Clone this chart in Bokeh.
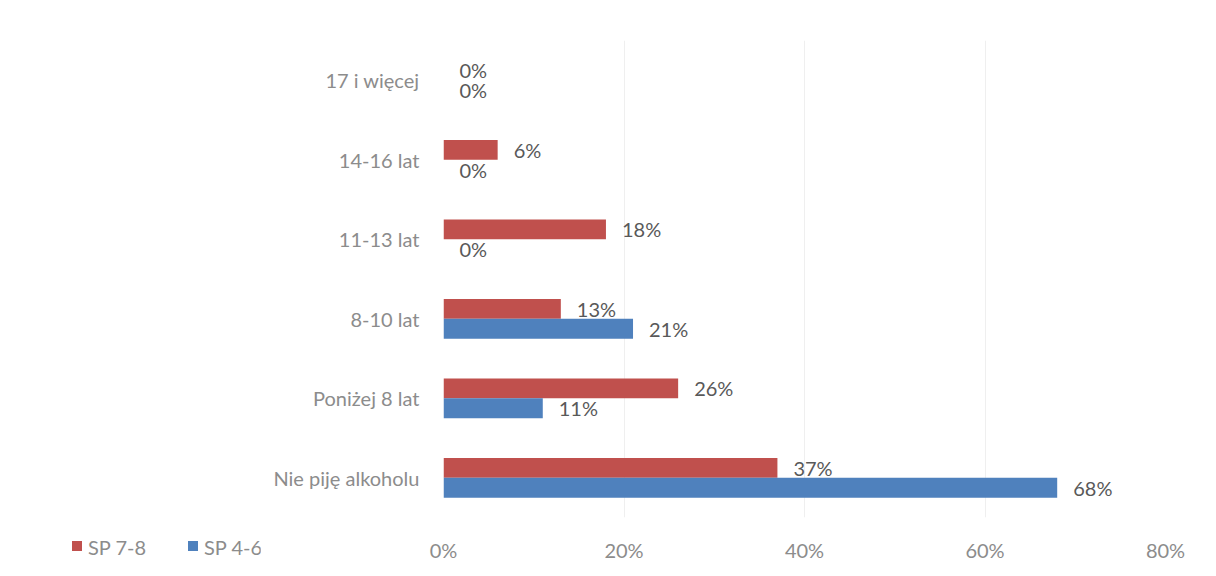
from bokeh.plotting import figure
from bokeh.layouts import row
from bokeh.models import ColumnDataSource, FactorRange, Range1d, FixedTicker, PrintfTickFormatter, Div
from bokeh.transform import dodge
from bokeh.core.properties import value
from bokeh.embed import file_html
from bokeh.resources import INLINE

categories = ["Nie piję alkoholu", "Poniżej 8 lat", "8-10 lat", "11-13 lat", "14-16 lat", "17 i więcej"]
sp78 = [37, 26, 13, 18, 6, 0]
sp46 = [68, 11, 21, 0, 0, 0]
series_names = ["SP 7-8", "SP 4-6"]
x_ticks = [0, 20, 40, 60, 80]

FONT = "Lato"
FS = "20px"
RED = "#C0504D"
BLUE = "#4F81BD"
LABEL_GRAY = "#8c8c8c"
H = 564

src = ColumnDataSource(dict(
    cat=categories,
    sp78=sp78,
    sp46=sp46,
    sp78_lbl=[f"{v}%" for v in sp78],
    sp46_lbl=[f"{v}%" for v in sp46],
))

LEFT_W = 260
p = figure(width=1200 - LEFT_W, height=H, output_backend="svg", toolbar_location=None,
           y_range=FactorRange(*categories, range_padding=0),
           x_range=Range1d(0, 80),
           min_border_left=183, min_border_right=35, min_border_top=40, min_border_bottom=44)
p.outline_line_color = None

r1 = p.hbar(y=dodge("cat", 0.125, range=p.y_range), right="sp78", left=0, height=0.25,
            source=src, fill_color=RED, line_color=None)
r2 = p.hbar(y=dodge("cat", -0.125, range=p.y_range), right="sp46", left=0, height=0.25,
            source=src, fill_color=BLUE, line_color=None)

for col, off in (("sp78", 0.125), ("sp46", -0.125)):
    p.text(x=col, y=dodge("cat", off, range=p.y_range), text=col + "_lbl", source=src,
           x_offset=16, text_align="left", text_baseline="middle",
           text_font=value(FONT), text_font_size=FS, text_color="#595959")

p.xaxis.ticker = FixedTicker(ticks=x_ticks)
p.xaxis.formatter = PrintfTickFormatter(format="%d%%")
p.xaxis.axis_line_color = None
p.xaxis.major_tick_line_color = None
p.xaxis.minor_tick_line_color = None
p.xaxis.major_tick_out = 0
p.xaxis.major_label_standoff = 20
p.xaxis.major_label_text_font = FONT
p.xaxis.major_label_text_font_size = FS
p.xaxis.major_label_text_color = LABEL_GRAY

p.yaxis.axis_line_color = None
p.yaxis.major_tick_line_color = None
p.yaxis.major_tick_out = 0
p.yaxis.major_label_standoff = 24
p.yaxis.major_label_text_font = FONT
p.yaxis.major_label_text_font_size = FS
p.yaxis.major_label_text_color = LABEL_GRAY

p.ygrid.grid_line_color = None
p.xgrid.grid_line_color = "#efefef"

# legend (bottom-left, on the same line as the x tick labels)
items_html = ""
for name, color, left in zip(series_names, [RED, BLUE], [72, 188]):
    items_html += (f'<span style="position:absolute;left:{left}px;top:541px;width:10px;height:10px;'
                   f'background:{color};"></span>'
                   f'<span style="position:absolute;left:{left + 16}px;top:535px;line-height:24px;'
                   f'font-family:{FONT};font-size:{FS};color:{LABEL_GRAY};white-space:nowrap;">{name}</span>')
legend_div = Div(text=f'<div style="position:relative;width:{LEFT_W}px;height:{H}px;">{items_html}</div>',
                 width=LEFT_W, height=H, margin=0)

layout = row(legend_div, p)
open("out.html", "w").write(file_html(layout, INLINE))
